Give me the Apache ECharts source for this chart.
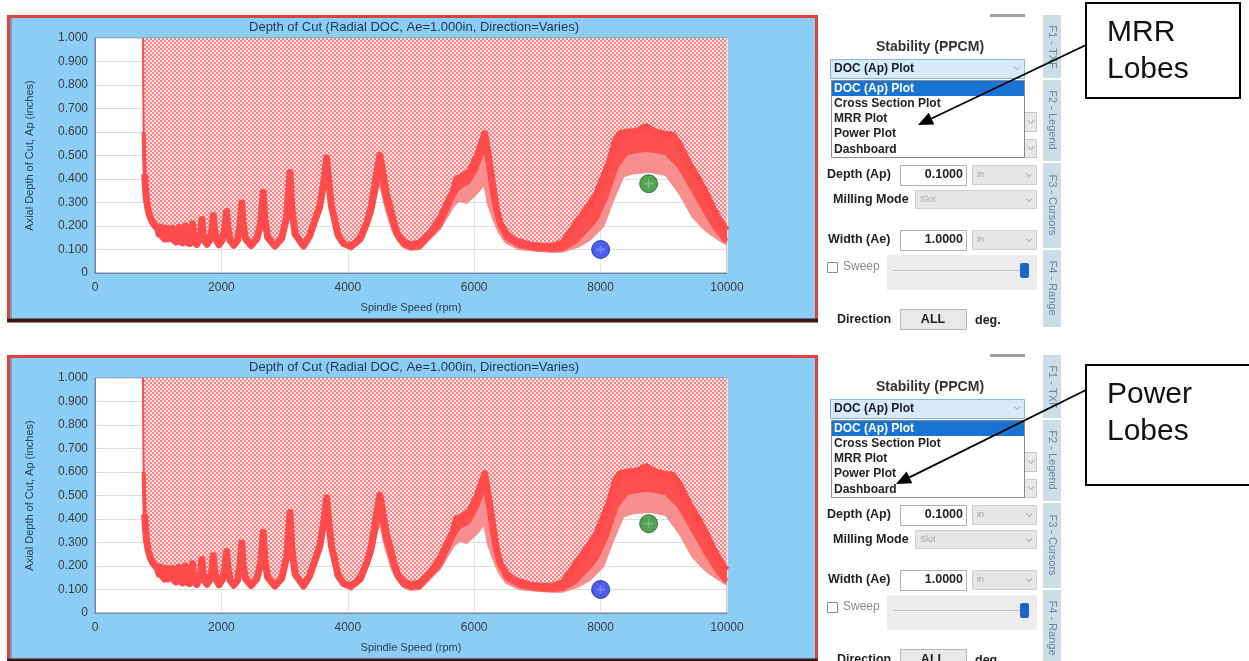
<!DOCTYPE html>
<html>
<head>
<meta charset="utf-8">
<title>Depth of Cut - stability lobes</title>
<script src="https://cdn.jsdelivr.net/npm/echarts@6/dist/echarts.min.js"></script>
<style>
  html, body { margin: 0; padding: 0; background: #fff; }
  #main { width: 1249px; height: 661px; }
</style>
</head>
<body>
<div id="main"></div>
<script>
// spindle speed (rpm) / axial depth (in)
// top of the red band (boundary of the unstable, hatched region)
const upperEdge = [
  [760, 1.0], [762, 0.86], [765, 0.72], [770, 0.6], [777, 0.5], [786, 0.42], [798, 0.36], [815, 0.31], [840, 0.27], [870, 0.24], [910, 0.215], [955, 0.2],
  [990, 0.19], [1015, 0.165], [1045, 0.195], [1068, 0.155], [1098, 0.145], [1132, 0.19], [1156, 0.145], [1186, 0.137], [1222, 0.19], [1248, 0.14], [1280, 0.132],
  [1322, 0.195], [1348, 0.135], [1385, 0.128], [1428, 0.2], [1455, 0.13], [1495, 0.125], [1545, 0.21], [1572, 0.13], [1612, 0.122],
  [1650, 0.145], [1674, 0.176], [1690, 0.228], [1706, 0.176], [1732, 0.138], [1772, 0.122],
  [1816, 0.141], [1850, 0.182], [1872, 0.245], [1889, 0.186], [1920, 0.14], [1962, 0.12],
  [2012, 0.14], [2052, 0.186], [2082, 0.262], [2101, 0.196], [2136, 0.14], [2196, 0.118],
  [2256, 0.14], [2293, 0.196], [2322, 0.298], [2343, 0.21], [2381, 0.146], [2470, 0.117],
  [2562, 0.146], [2622, 0.21], [2662, 0.343], [2686, 0.232], [2732, 0.152], [2846, 0.115],
  [2952, 0.146], [3032, 0.236], [3085, 0.428], [3112, 0.282], [3166, 0.166], [3300, 0.115],
  [3399, 0.16], [3557, 0.284], [3622, 0.39], [3665, 0.49], [3700, 0.385], [3742, 0.284], [3847, 0.16], [3930, 0.126], [4030, 0.115],
  [4130, 0.13], [4216, 0.16], [4300, 0.212], [4374, 0.284], [4442, 0.4], [4506, 0.502], [4560, 0.42], [4612, 0.335], [4664, 0.284], [4730, 0.212], [4795, 0.16],
  [4900, 0.13], [5000, 0.12], [5138, 0.128],
  [5300, 0.17], [5455, 0.23], [5580, 0.3], [5665, 0.345], [5722, 0.4], [5822, 0.412], [5930, 0.433], [6050, 0.5], [6166, 0.592], [6222, 0.5], [6272, 0.412],
  [6351, 0.272], [6420, 0.205], [6509, 0.168], [6620, 0.142], [6719, 0.132], [6900, 0.118], [7100, 0.113], [7241, 0.115],
  [7400, 0.128], [7562, 0.19], [7750, 0.262], [7931, 0.332], [8050, 0.412], [8142, 0.472], [8230, 0.56], [8300, 0.592], [8430, 0.6], [8564, 0.602],
  [8650, 0.615], [8722, 0.622], [8850, 0.602], [8985, 0.592], [9143, 0.586], [9249, 0.546], [9407, 0.46], [9565, 0.39], [9680, 0.332], [9776, 0.276],
  [9880, 0.226], [9960, 0.192], [10000, 0.182]
];
// lower edge of the dark red part of the band (large lobes)
const darkBandLow = [
  [4030, 0.105], [4216, 0.145], [4374, 0.262], [4450, 0.37], [4500, 0.43], [4540, 0.4], [4600, 0.31], [4664, 0.255], [4760, 0.17], [4880, 0.12], [5000, 0.108], [5138, 0.112],
  [5455, 0.205], [5620, 0.3], [5700, 0.345], [5780, 0.37], [5900, 0.385], [6020, 0.44], [6120, 0.51], [6175, 0.535], [6235, 0.45], [6300, 0.33], [6400, 0.215],
  [6509, 0.15], [6719, 0.117], [7000, 0.102], [7241, 0.1],
  [7400, 0.104], [7600, 0.135], [7800, 0.19], [7931, 0.232], [8090, 0.327], [8248, 0.454], [8406, 0.511], [8560, 0.52], [8722, 0.526], [8880, 0.52],
  [9038, 0.511], [9249, 0.454], [9460, 0.355], [9670, 0.256], [9820, 0.19], [9960, 0.143], [10000, 0.136]
];
// lower edge of the light pink part of the band
const lowerEdge = [
  [4030, 0.098], [4216, 0.138], [4374, 0.25], [4460, 0.35], [4510, 0.385], [4550, 0.34], [4612, 0.27], [4700, 0.19], [4795, 0.14], [4900, 0.11], [5000, 0.1], [5138, 0.104],
  [5455, 0.19], [5665, 0.285], [5760, 0.31], [5877, 0.3], [6000, 0.33], [6087, 0.355], [6150, 0.385], [6195, 0.34], [6218, 0.3], [6300, 0.235], [6400, 0.172],
  [6509, 0.13], [6719, 0.103], [7241, 0.092],
  [7400, 0.093], [7650, 0.115], [7826, 0.143], [8037, 0.2], [8195, 0.313], [8353, 0.412], [8511, 0.426], [8775, 0.433], [9038, 0.419], [9249, 0.341],
  [9460, 0.242], [9600, 0.2], [9723, 0.171], [9960, 0.128], [10000, 0.124]
];
const blueCursor = [[8000, 0.1]];
const greenCursor = [[8760, 0.38]];

const chartTitle = 'Depth of Cut (Radial DOC, Ae=1.000in, Direction=Varies)';
const plotMenu = ['DOC (Ap) Plot', 'Cross Section Plot', 'MRR Plot', 'Power Plot', 'Dashboard'];
const sideTabs = ['F1 - TXF', 'F2 - Legend', 'F3 - Cursors', 'F4 - Range'];
const calloutText = [['MRR', 'Lobes'], ['Power', 'Lobes']];

const panelOffsets = [0, 340];
const FONT = '"Liberation Sans", Arial, sans-serif';

// dithered red/white fill of the unstable region
const hatch = document.createElement('canvas');
hatch.width = 4;
hatch.height = 4;
const hctx = hatch.getContext('2d');
hctx.fillStyle = '#ffe6e6';
hctx.fillRect(0, 0, 4, 4);
hctx.fillStyle = '#ff8080';
hctx.fillRect(0, 0, 2, 2);
hctx.fillRect(2, 2, 2, 2);

function txt (x, y, text, font, fill, align, extra) {
  return Object.assign({
    type: 'text', x: x, y: y, z: 5,
    style: { text: text, font: font, fill: fill, align: align || 'left', verticalAlign: 'middle', textAlign: align || 'left', textVerticalAlign: 'middle' }
  }, extra || {})
}
function box (x, y, w, h, fill, stroke, z) {
  return { type: 'rect', z: z === undefined ? 4 : z, shape: { x: x, y: y, width: w, height: h }, style: { fill: fill, stroke: stroke || null, lineWidth: 1 } }
}
function chevron (x, y) {
  return { type: 'polyline', z: 6, shape: { points: [[x - 3, y - 1.5], [x, y + 1.5], [x + 3, y - 1.5]] }, style: { stroke: '#9a9a9a', lineWidth: 1, fill: null } }
}

function panelGraphics (dy) {
  const g = [];
  // chart frame
  g.push({ type: 'rect', z: -1, shape: { x: 8.5, y: 16.5 + dy, width: 808, height: 304 }, style: { fill: '#8ccdf6', stroke: '#e2403a', lineWidth: 3 } });
  g.push({ type: 'line', z: -1, shape: { x1: 7, y1: 320.5 + dy, x2: 818, y2: 320.5 + dy }, style: { stroke: '#3d1512', lineWidth: 4 } });
  g.push({ type: 'line', z: -1, shape: { x1: 11, y1: 18 + dy, x2: 11, y2: 318 + dy }, style: { stroke: '#5a6f80', lineWidth: 1 } });
  g.push(txt(414, 27 + dy, chartTitle, '13px ' + FONT, '#1d3550', 'center'));

  // side panel
  g.push(box(990, 14 + dy, 35, 3, '#a0a0a0', null));
  g.push(txt(930, 47 + dy, 'Stability (PPCM)', 'bold 14px ' + FONT, '#333', 'center'));
  g.push(box(830.5, 59.5 + dy, 194, 19, '#d6eaf8', '#86b6e0'));
  g.push(txt(834, 69 + dy, plotMenu[0], 'bold 12px ' + FONT, '#1a1a2a'));
  g.push(chevron(1017, 68 + dy));
  // partly hidden controls behind the open list
  g.push(box(1020.5, 112.5 + dy, 16, 19, '#e8e8e8', '#c8c8c8', 3));
  g.push(box(1020.5, 139.5 + dy, 16, 18, '#e8e8e8', '#c8c8c8', 3));
  g.push(chevron(1031, 122 + dy));
  g.push(chevron(1031, 148 + dy));
  g.push(box(831.5, 80.5 + dy, 193, 77, '#ffffff', '#8a8a8a', 7));
  g.push(box(832, 81 + dy, 192, 15, '#1874d4', null, 7));
  plotMenu.forEach(function (item, i) {
    const y = [88.5, 103.5, 118.5, 134, 150][i] + dy;
    g.push(txt(834, y, item, 'bold 12px ' + FONT, i === 0 ? '#ffffff' : '#222', 'left', { z: 8 }));
  });

  g.push(txt(827, 175 + dy, 'Depth (Ap)', 'bold 12.5px ' + FONT, '#222'));
  g.push(box(900.5, 165.5 + dy, 66, 20, '#ffffff', '#b0b0b0'));
  g.push(txt(963, 175 + dy, '0.1000', 'bold 12.5px ' + FONT, '#222', 'right'));
  g.push(box(972.5, 165.5 + dy, 64, 19, '#e6e6e6', '#cfcfcf'));
  g.push(txt(977, 175 + dy, 'in', '9px ' + FONT, '#a0a0a0'));
  g.push(chevron(1029, 175 + dy));

  g.push(txt(833, 200 + dy, 'Milling Mode', 'bold 12.5px ' + FONT, '#222'));
  g.push(box(915.5, 190.5 + dy, 121, 18, '#e6e6e6', '#cfcfcf'));
  g.push(txt(920, 200 + dy, 'Slot', '9px ' + FONT, '#a8a8a8'));
  g.push(chevron(1029, 200 + dy));

  g.push(txt(828, 240 + dy, 'Width (Ae)', 'bold 12.5px ' + FONT, '#222'));
  g.push(box(900.5, 230.5 + dy, 66, 20, '#ffffff', '#b0b0b0'));
  g.push(txt(963, 240 + dy, '1.0000', 'bold 12.5px ' + FONT, '#222', 'right'));
  g.push(box(972.5, 230.5 + dy, 64, 19, '#e6e6e6', '#cfcfcf'));
  g.push(txt(977, 240 + dy, 'in', '9px ' + FONT, '#a0a0a0'));
  g.push(chevron(1029, 240 + dy));

  g.push(box(827.5, 262.5 + dy, 10, 10, '#ffffff', '#8c8c8c'));
  g.push(txt(843, 267 + dy, 'Sweep', '12px ' + FONT, '#8a8a8a'));
  g.push(box(887, 255 + dy, 150, 35, '#ececec', null, 3));
  g.push({ type: 'line', z: 4, shape: { x1: 893, y1: 270.5 + dy, x2: 1026, y2: 270.5 + dy }, style: { stroke: '#c4c4c4', lineWidth: 1 } });
  g.push({ type: 'rect', z: 5, shape: { x: 1020, y: 263 + dy, width: 9, height: 15, r: 2 }, style: { fill: '#1a66c4' } });

  g.push(txt(837, 320 + dy, 'Direction', 'bold 12.5px ' + FONT, '#222'));
  g.push(box(900.5, 309.5 + dy, 66, 20, '#e8e8e8', '#b8b8b8'));
  g.push(txt(933, 320 + dy, 'ALL', 'bold 12.5px ' + FONT, '#222', 'center'));
  g.push(txt(975, 321 + dy, 'deg.', 'bold 12.5px ' + FONT, '#222'));

  // function-key tab strip
  g.push(box(1043, 15 + dy, 18, 312, '#c9dee9', null, 3));
  [79, 162, 249].forEach(function (y) {
    g.push({ type: 'line', z: 4, shape: { x1: 1043, y1: y + dy, x2: 1061, y2: y + dy }, style: { stroke: '#ffffff', lineWidth: 2 } });
  });
  sideTabs.forEach(function (t, i) {
    const y = [47, 120, 205, 288][i] + dy;
    g.push(txt(1052, y, t, '11px ' + FONT, '#6f8796', 'center', { rotation: -Math.PI / 2 }));
  });
  return g;
}

function calloutGraphics (lines, boxRect, from, tip) {
  const g = [];
  g.push({ type: 'rect', z: 10, shape: boxRect, style: { fill: '#ffffff', stroke: '#000000', lineWidth: 2 } });
  g.push(txt(boxRect.x + 21, boxRect.y + 30, lines[0], '30px ' + FONT, '#111', 'left', { z: 11 }));
  g.push(txt(boxRect.x + 21, boxRect.y + 67, lines[1], '30px ' + FONT, '#111', 'left', { z: 11 }));
  const dx = tip[0] - from[0], dyy = tip[1] - from[1];
  const len = Math.sqrt(dx * dx + dyy * dyy);
  const ux = dx / len, uy = dyy / len;
  const bx = tip[0] - ux * 15, by = tip[1] - uy * 15;
  g.push({ type: 'line', z: 10, shape: { x1: from[0], y1: from[1], x2: bx, y2: by }, style: { stroke: '#000', lineWidth: 1.8 } });
  g.push({ type: 'polygon', z: 10, shape: { points: [tip, [bx - uy * 6.5, by + ux * 6.5], [bx + uy * 6.5, by - ux * 6.5]] }, style: { fill: '#000' } });
  return g;
}

let graphics = [];
panelOffsets.forEach(function (dy) { graphics = graphics.concat(panelGraphics(dy)) });
graphics = graphics.concat(calloutGraphics(calloutText[0], { x: 1086, y: 3, width: 154, height: 95 }, [1086, 45], [918, 125]));
graphics = graphics.concat(calloutGraphics(calloutText[1], { x: 1086, y: 365, width: 170, height: 120 }, [1086, 390], [896, 484]));

function makeAxes (i) {
  return {
    x: {
      type: 'value', gridIndex: i, min: 0, max: 10000, interval: 2000,
      name: 'Spindle Speed (rpm)', nameLocation: 'middle', nameGap: 29,
      nameTextStyle: { fontSize: 11, color: '#2b3f55', fontFamily: FONT },
      axisLine: { show: true, lineStyle: { color: '#6f879c' } },
      axisTick: { show: false },
      axisLabel: { fontSize: 12, color: '#3c3c3c', margin: 9, fontFamily: FONT,
        formatter: function (v) { return String(v) } },
      splitLine: { show: true, lineStyle: { color: '#e4e4e4' } }
    },
    y: {
      type: 'value', gridIndex: i, min: 0, max: 1, interval: 0.1,
      name: 'Axial Depth of Cut, Ap (inches)', nameLocation: 'middle', nameGap: 60, nameRotate: 90,
      nameTextStyle: { fontSize: 11, color: '#2b3f55', fontFamily: FONT },
      axisLine: { show: true, lineStyle: { color: '#6f879c' } },
      axisTick: { show: false },
      axisLabel: { fontSize: 12, color: '#3c3c3c', margin: 7, fontFamily: FONT, padding: [5, 0, 0, 0],
        formatter: function (v) { return v === 0 ? '0' : v.toFixed(3) } },
      splitLine: { show: true, lineStyle: { color: '#dedede' } }
    }
  }
}

function makeSeries (i) {
  const base = { type: 'line', xAxisIndex: i, yAxisIndex: i, showSymbol: false, symbol: 'none', animation: false, silent: true };
  const cross = 'path://M4,0h2v4h4v2h-4v4h-2v-4h-4v-2h4z';
  return [
    Object.assign({}, base, { name: 'band low', data: lowerEdge,
      lineStyle: { color: '#f98e8e', width: 3 }, areaStyle: { origin: 'end', color: '#f98e8e', opacity: 1 } }),
    Object.assign({}, base, { name: 'band dark', data: darkBandLow,
      lineStyle: { color: '#ff5050', width: 5 }, areaStyle: { origin: 'end', color: '#ff5050', opacity: 1 } }),
    // hatched unstable region with a thin edge
    Object.assign({}, base, { name: 'stability limit', data: upperEdge,
      lineStyle: { color: '#ff4b4b', width: 2 },
      areaStyle: { origin: 'end', color: { image: hatch, repeat: 'repeat' }, opacity: 1 } }),
    // the band widens as the entry wall bends over
    Object.assign({}, base, { name: 'entry band', data: upperEdge.slice(3, 9),
      lineStyle: { color: '#ff4b4b', width: 4, cap: 'butt' } }),
    Object.assign({}, base, { name: 'stability band', data: upperEdge.slice(5),
      lineStyle: { color: '#ff4b4b', width: 7, join: 'round', cap: 'butt' } }),
    { type: 'scatter', xAxisIndex: i, yAxisIndex: i, data: blueCursor, symbolSize: 18, animation: false, z: 5,
      itemStyle: { color: '#1f36e6', borderColor: '#14229a', borderWidth: 1 } },
    { type: 'scatter', xAxisIndex: i, yAxisIndex: i, data: greenCursor, symbolSize: 18, animation: false, z: 5,
      itemStyle: { color: '#2a8a2a', borderColor: '#1c641c', borderWidth: 1 } },
    { type: 'scatter', xAxisIndex: i, yAxisIndex: i, data: blueCursor, symbol: cross, symbolSize: 9, animation: false, z: 6,
      itemStyle: { color: '#7f8cff' } },
    { type: 'scatter', xAxisIndex: i, yAxisIndex: i, data: greenCursor, symbol: cross, symbolSize: 9, animation: false, z: 6,
      itemStyle: { color: '#7fc77f' } }
  ]
}

const chart = echarts.init(document.getElementById('main'), null, { renderer: 'canvas' });
const axes = panelOffsets.map(function (dy, i) { return makeAxes(i) });
chart.setOption({
  animation: false,
  backgroundColor: '#ffffff',
  grid: panelOffsets.map(function (dy) {
    return { left: 95, top: 38 + dy, width: 632, height: 235, show: true, backgroundColor: '#ffffff', borderColor: '#7891a8', borderWidth: 1, containLabel: false }
  }),
  xAxis: axes.map(function (a) { return a.x }),
  yAxis: axes.map(function (a) { return a.y }),
  series: [].concat(makeSeries(0), makeSeries(1)),
  graphic: { elements: graphics }
});
window.addEventListener('resize', function () { chart.resize() });
</script>
</body>
</html>
